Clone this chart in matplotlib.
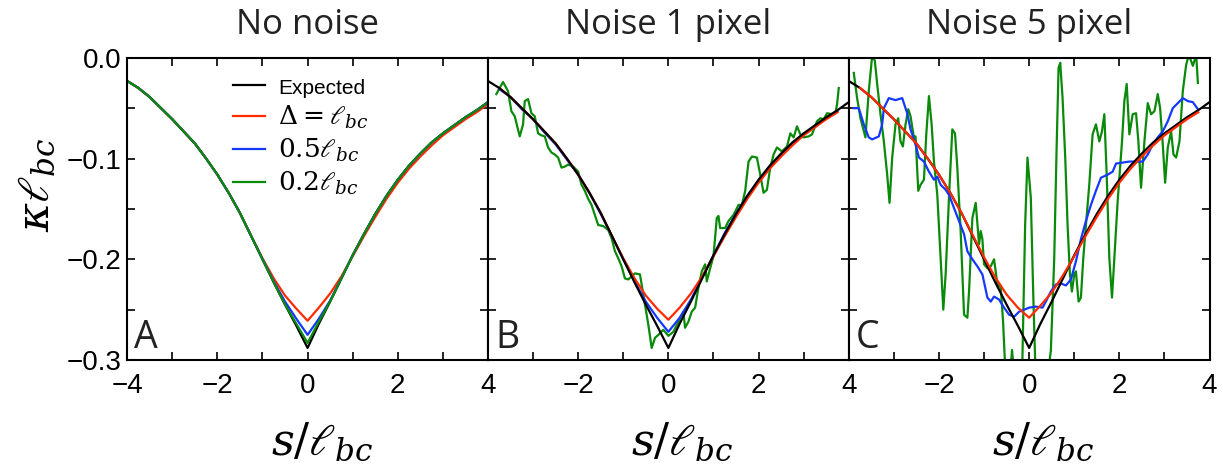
import matplotlib
matplotlib.use('Agg')
import matplotlib.pyplot as plt
from matplotlib.ticker import MultipleLocator

plt.rcParams['mathtext.fontset'] = 'dejavuserif'
plt.rcParams['font.family'] = ['Liberation Sans', 'DejaVu Sans']
plt.rcParams['axes.unicode_minus'] = True

# smooth curves, sampled every 0.25 in s/l_bc
s = [-4, -3.75, -3.5, -3.25, -3, -2.75, -2.5, -2.25, -2, -1.75, -1.5, -1.25, -1,
     -0.75, -0.5, -0.25, 0, 0.25, 0.5, 0.75, 1, 1.25, 1.5, 1.75, 2, 2.25, 2.5,
     2.75, 3, 3.25, 3.5, 3.75, 4]

expected = [-0.023, -0.030, -0.039, -0.050, -0.061, -0.073, -0.085, -0.100, -0.116,
            -0.134, -0.154, -0.177, -0.200, -0.223, -0.245, -0.266, -0.288, -0.264,
            -0.242, -0.219, -0.196, -0.175, -0.155, -0.137, -0.121, -0.107, -0.095,
            -0.084, -0.075, -0.067, -0.059, -0.052, -0.044]

red_a = [-0.023, -0.030, -0.039, -0.050, -0.061, -0.073, -0.085, -0.100, -0.116,
         -0.134, -0.154, -0.177, -0.199, -0.219, -0.236, -0.249, -0.261, -0.248,
         -0.234, -0.217, -0.197, -0.177, -0.158, -0.140, -0.124, -0.110, -0.098,
         -0.087, -0.077, -0.069, -0.061, -0.054, -0.046]

blue_a = [-0.023, -0.030, -0.039, -0.050, -0.061, -0.073, -0.085, -0.100, -0.116,
          -0.134, -0.154, -0.177, -0.200, -0.222, -0.242, -0.259, -0.275, -0.259,
          -0.241, -0.219, -0.196, -0.175, -0.155, -0.137, -0.121, -0.107, -0.095,
          -0.084, -0.075, -0.067, -0.059, -0.052, -0.044]

green_a = [-0.023, -0.030, -0.039, -0.050, -0.061, -0.073, -0.085, -0.100, -0.116,
           -0.134, -0.154, -0.177, -0.200, -0.223, -0.245, -0.264, -0.283, -0.262,
           -0.242, -0.219, -0.196, -0.175, -0.155, -0.137, -0.121, -0.107, -0.095,
           -0.084, -0.075, -0.067, -0.059, -0.052, -0.044]

# panel B (1 pixel noise), smooth ones from -3.75 to 3.75
red_b = [-0.030, -0.039, -0.050, -0.061, -0.073, -0.085, -0.100, -0.116,
         -0.134, -0.154, -0.177, -0.199, -0.219, -0.236, -0.249, -0.260, -0.248,
         -0.234, -0.217, -0.197, -0.177, -0.158, -0.140, -0.124, -0.110, -0.098,
         -0.087, -0.077, -0.069, -0.061, -0.054]

blue_b = [-0.031, -0.039, -0.051, -0.061, -0.074, -0.086, -0.101, -0.116,
          -0.134, -0.155, -0.177, -0.200, -0.222, -0.242, -0.258, -0.272, -0.258,
          -0.240, -0.218, -0.196, -0.174, -0.155, -0.137, -0.122, -0.108, -0.096,
          -0.085, -0.076, -0.068, -0.060, -0.053]

green_b_x = [-3.815, -3.667, -3.556, -3.481, -3.407, -3.296, -3.222, -3.185, -3.111,
             -3.037, -2.963, -2.889, -2.815, -2.741, -2.667, -2.593, -2.519, -2.444,
             -2.370, -2.296, -2.222, -2.111, -2.0, -1.926, -1.852, -1.778, -1.704,
             -1.630, -1.556, -1.444, -1.333, -1.259, -1.185, -1.111, -1.037, -0.963,
             -0.889, -0.741, -0.630, -0.519, -0.444, -0.370, -0.296, -0.222, -0.111,
             0.0, 0.111, 0.222, 0.333, 0.370, 0.444, 0.519, 0.593, 0.667, 0.741,
             0.815, 0.852, 0.926, 1.0, 1.074, 1.111, 1.148, 1.259, 1.333, 1.444,
             1.556, 1.630, 1.704, 1.778, 1.852, 1.963, 2.037, 2.111, 2.185, 2.259,
             2.333, 2.407, 2.519, 2.630, 2.704, 2.778, 2.852, 2.926, 3.0, 3.111,
             3.185, 3.296, 3.370, 3.444, 3.519, 3.630, 3.704, 3.741, 3.778]
green_b_y = [-0.036, -0.024, -0.033, -0.053, -0.058, -0.078, -0.066, -0.043, -0.041,
             -0.055, -0.058, -0.075, -0.077, -0.078, -0.089, -0.094, -0.096, -0.099,
             -0.109, -0.108, -0.106, -0.108, -0.113, -0.126, -0.132, -0.140, -0.146,
             -0.156, -0.166, -0.167, -0.171, -0.179, -0.192, -0.199, -0.207, -0.219,
             -0.220, -0.214, -0.215, -0.245, -0.265, -0.288, -0.278, -0.275, -0.270,
             -0.276, -0.272, -0.262, -0.252, -0.268, -0.262, -0.252, -0.248, -0.228,
             -0.212, -0.205, -0.222, -0.209, -0.197, -0.159, -0.157, -0.169, -0.169,
             -0.162, -0.156, -0.146, -0.146, -0.132, -0.103, -0.098, -0.099, -0.116,
             -0.134, -0.131, -0.109, -0.096, -0.089, -0.093, -0.088, -0.075, -0.079,
             -0.068, -0.076, -0.079, -0.078, -0.076, -0.063, -0.060, -0.061, -0.055,
             -0.056, -0.055, -0.046, -0.030]

# panel C (5 pixel noise)
red_c = [-0.030, -0.039, -0.050, -0.061, -0.073, -0.085, -0.100, -0.116,
         -0.134, -0.154, -0.176, -0.198, -0.218, -0.235, -0.248, -0.258, -0.246,
         -0.233, -0.216, -0.197, -0.177, -0.158, -0.140, -0.124, -0.110, -0.098,
         -0.087, -0.077, -0.069, -0.061, -0.054]

blue_c_x = [-3.889, -3.778, -3.667, -3.556, -3.481, -3.333, -3.259, -3.222, -3.111,
            -2.963, -2.815, -2.704, -2.630, -2.519, -2.444, -2.333, -2.222, -2.111,
            -2.037, -1.963, -1.852, -1.778, -1.667, -1.556, -1.444, -1.370, -1.259,
            -1.148, -1.037, -0.926, -0.852, -0.778, -0.667, -0.556, -0.444, -0.333,
            -0.222, -0.111, 0.0, 0.148, 0.296, 0.370, 0.481, 0.593, 0.704, 0.815,
            0.926, 1.037, 1.148, 1.259, 1.370, 1.481, 1.593, 1.741, 1.852, 1.926,
            2.074, 2.222, 2.370, 2.519, 2.630, 2.741, 2.852, 2.963, 3.074, 3.185,
            3.296, 3.407, 3.519, 3.630, 3.741]
blue_c_y = [-0.050, -0.050, -0.066, -0.079, -0.081, -0.078, -0.066, -0.050, -0.040,
            -0.042, -0.040, -0.055, -0.071, -0.086, -0.099, -0.103, -0.113, -0.121,
            -0.118, -0.126, -0.131, -0.136, -0.149, -0.162, -0.175, -0.192, -0.200,
            -0.207, -0.215, -0.238, -0.242, -0.237, -0.240, -0.248, -0.255, -0.257,
            -0.252, -0.250, -0.248, -0.247, -0.248, -0.242, -0.232, -0.225, -0.224,
            -0.226, -0.220, -0.202, -0.180, -0.162, -0.146, -0.132, -0.119, -0.116,
            -0.113, -0.105, -0.104, -0.103, -0.103, -0.103, -0.096, -0.086, -0.079,
            -0.073, -0.063, -0.050, -0.045, -0.040, -0.043, -0.044, -0.051]

green_c_x = [-3.889, -3.815, -3.741, -3.630, -3.556, -3.481, -3.422, -3.370, -3.296,
             -3.222, -3.148, -3.096, -3.037, -2.963, -2.904, -2.852, -2.800, -2.741,
             -2.681, -2.630, -2.556, -2.519, -2.459, -2.407, -2.333, -2.281, -2.222,
             -2.163, -2.111, -2.037, -1.963, -1.904, -1.852, -1.778, -1.704, -1.644,
             -1.593, -1.519, -1.444, -1.370, -1.333, -1.259, -1.185, -1.111, -1.074,
             -1.037, -1.0, -0.926, -0.852, -0.778, -0.704, -0.630, -0.578, -0.519,
             -0.450, -0.380, -0.300, -0.220, -0.150, -0.089, -0.037, 0.037, 0.089,
             0.133, 0.185, 0.333, 0.430, 0.481, 0.556, 0.607, 0.652, 0.689, 0.741,
             0.800, 0.852, 0.904, 0.948, 1.0, 1.037, 1.096, 1.148, 1.2, 1.259, 1.333,
             1.407, 1.481, 1.556, 1.615, 1.667, 1.719, 1.778, 1.837, 1.889, 1.963,
             2.059, 2.111, 2.163, 2.222, 2.296, 2.370, 2.422, 2.481, 2.556, 2.630,
             2.704, 2.778, 2.852, 2.904, 2.963, 3.015, 3.074, 3.148, 3.2, 3.259,
             3.333, 3.407, 3.481, 3.541, 3.630, 3.704, 3.741]
green_c_y = [-0.015, -0.040, -0.060, -0.079, -0.033, 0.002, -0.003, -0.026, -0.056,
             -0.083, -0.116, -0.144, -0.099, -0.066, -0.060, -0.083, -0.088, -0.066,
             -0.051, -0.058, -0.079, -0.078, -0.132, -0.126, -0.121, -0.076, -0.038,
             -0.066, -0.103, -0.136, -0.199, -0.250, -0.215, -0.139, -0.071, -0.075,
             -0.109, -0.172, -0.255, -0.258, -0.232, -0.159, -0.144, -0.185, -0.172,
             -0.180, -0.205, -0.209, -0.207, -0.200, -0.225, -0.228, -0.262, -0.320,
             -0.335, -0.290, -0.330, -0.335, -0.300, -0.166, -0.099, -0.139, -0.232,
             -0.300, -0.331, -0.331, -0.308, -0.291, -0.199, -0.093, -0.010, -0.005,
             -0.040, -0.099, -0.166, -0.215, -0.232, -0.215, -0.212, -0.242, -0.238,
             -0.199, -0.166, -0.126, -0.076, -0.066, -0.083, -0.073, -0.056, -0.116,
             -0.199, -0.238, -0.199, -0.142, -0.083, -0.043, -0.026, -0.076, -0.056,
             -0.055, -0.083, -0.129, -0.083, -0.045, -0.056, -0.053, -0.036, -0.050,
             -0.086, -0.124, -0.089, -0.073, -0.096, -0.099, -0.083, -0.033, -0.007,
             0.003, -0.008, 0.003, -0.025]

titles = ['No noise', 'Noise 1 pixel', 'Noise 5 pixel']
letters = ['A', 'B', 'C']

c_black = 'black'
c_red = '#ff2a00'
c_blue = '#1438ff'
c_green = '#0a8a0a'
lw = 1.6

fig, axes = plt.subplots(1, 3, figsize=(12.23, 4.7), dpi=100, sharey=True)
fig.subplots_adjust(left=0.104, right=0.989, bottom=0.234, top=0.877, wspace=0)

s_in = s[1:-1]

ax = axes[0]
ax.plot(s, expected, color=c_black, lw=lw, label='Expected')
ax.plot(s, red_a, color=c_red, lw=lw, label=r'$\Delta=\ell_{bc}$')
ax.plot(s, blue_a, color=c_blue, lw=lw, label=r'$0.5\ell_{bc}$')
ax.plot(s, green_a, color=c_green, lw=lw, label=r'$0.2\ell_{bc}$')

ax = axes[1]
ax.plot(green_b_x, green_b_y, color=c_green, lw=lw)
ax.plot(s_in, blue_b, color=c_blue, lw=lw)
ax.plot(s_in, red_b, color=c_red, lw=lw)
ax.plot(s, expected, color=c_black, lw=lw)

ax = axes[2]
ax.plot(green_c_x, green_c_y, color=c_green, lw=lw)
ax.plot(blue_c_x, blue_c_y, color=c_blue, lw=lw)
ax.plot(s, expected, color=c_black, lw=lw)
ax.plot(s_in, red_c, color=c_red, lw=lw)

for i, ax in enumerate(axes):
    ax.set_xlim(-4, 4)
    ax.set_ylim(-0.3, 0.0)
    ax.xaxis.set_major_locator(MultipleLocator(2))
    ax.xaxis.set_minor_locator(MultipleLocator(1))
    ax.yaxis.set_major_locator(MultipleLocator(0.1))
    ax.yaxis.set_minor_locator(MultipleLocator(0.05))
    ax.tick_params(which='both', direction='in', top=True, right=True,
                   length=6, width=1.2, labelsize=20)
    ax.tick_params(axis='x', pad=9)
    ax.tick_params(axis='y', pad=4)
    for sp in ax.spines.values():
        sp.set_linewidth(1.5)
    ax.set_title(titles[i], fontsize=25, family='Open Sans', pad=17, color='#222222')
    ax.set_xlabel(r'$s/\ell_{bc}$', fontsize=32)
    ax.xaxis.set_label_coords(0.54, -0.2)
    ax.xaxis.label.set_va('top')
    ax.text(0.02, 0.04, letters[i], transform=ax.transAxes, fontsize=27,
            family='Open Sans', ha='left', va='baseline', color='#222222')
    if i > 0:
        ax.set_xticks([-4, -2, 0, 2, 4])
        ax.set_xticklabels(['', '\u22122', '0', '2', '4'])
        ax.tick_params(axis='y', labelleft=False)

axes[0].set_yticks([0.0, -0.1, -0.2, -0.3])
axes[0].set_yticklabels(['0.0', '\u22120.1', '\u22120.2', '\u22120.3'])
fig.text(38 / 1223, 1 - 185 / 470, r'$\kappa\ell_{bc}$', fontsize=32,
         rotation=90, ha='center', va='center')

leg = axes[0].legend(loc='upper left', bbox_to_anchor=(0.265, 0.975), frameon=False,
                     fontsize=19, handlelength=1.2, handletextpad=0.5,
                     labelspacing=0.22, borderaxespad=0)
leg.get_texts()[0].set_fontsize(15)

fig.savefig('out.png', dpi=100)
